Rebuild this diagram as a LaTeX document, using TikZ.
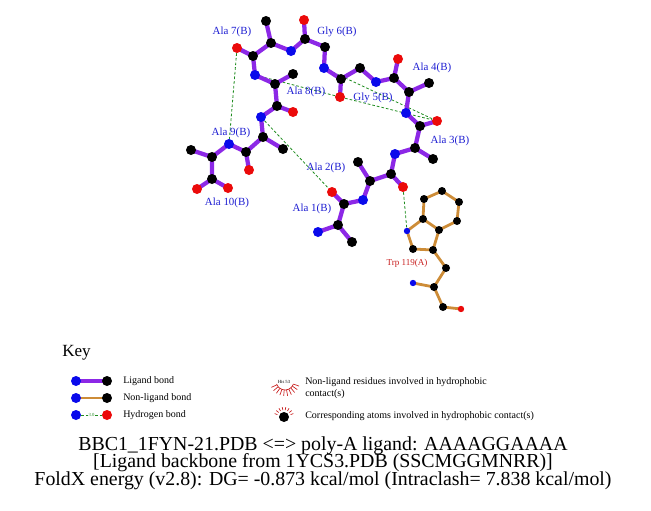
\documentclass[tikz,border=0pt]{standalone}
\usepackage{fontspec}
\setmainfont{Liberation Serif}
\usetikzlibrary{calc}
\definecolor{LigPurple}{RGB}{140,40,230}
\definecolor{NonLigOrange}{RGB}{205,140,55}
\definecolor{HBGreen}{RGB}{30,140,30}
\definecolor{AtomBlue}{RGB}{10,10,235}
\definecolor{AtomRed}{RGB}{235,10,10}
\definecolor{LabelBlue}{RGB}{30,30,210}
\definecolor{LabelRed}{RGB}{200,30,30}
\pgfdeclarelayer{bonds}
\pgfsetlayers{bonds,main}
\tikzset{
  atom/.style={circle,inner sep=0pt,minimum size=7.5pt},
  cat/.style={atom,fill=black},
  nat/.style={atom,fill=AtomBlue},
  oat/.style={atom,fill=AtomRed},
  tatom/.style={circle,inner sep=0pt,minimum size=6pt},
  tcat/.style={tatom,fill=black},
  tnat/.style={tatom,fill=AtomBlue,minimum size=4.8pt},
  toat/.style={tatom,fill=AtomRed,minimum size=4.8pt},
  ligbond/.style={LigPurple,line width=3.2pt,line join=round},
  nlbond/.style={NonLigOrange,line width=2.1pt,line join=round},
  hbond/.style={HBGreen,line width=0.6pt,dash pattern=on 2pt off 1.5pt},
  reslabel/.style={LabelBlue,font=\fontsize{8.2}{9}\selectfont,inner sep=0pt},
  trplabel/.style={LabelRed,font=\fontsize{6.8}{8}\selectfont,inner sep=0pt},
  keytext/.style={anchor=west,font=\fontsize{7.5}{8.5}\selectfont,inner sep=0pt},
  tinytext/.style={font=\fontsize{3.5}{4}\selectfont,inner sep=0pt},
  titletext/.style={font=\fontsize{14.9}{16}\selectfont,inner sep=0pt,
    text height=9.5pt,text depth=2pt},
}

\begin{document}
\begin{tikzpicture}[x=0.75pt,y=-0.75pt]
    \useasboundingbox (0,0) rectangle (651,511);

    % Ligand atoms
    \node[nat] (a1n)  at (318,232) {};
    \node[cat] (a1ca) at (338,225) {};
    \node[cat] (a1cb) at (352,242) {};
    \node[cat] (a1c)  at (344,204) {};
    \node[oat] (a1o)  at (332,192) {};
    \node[nat] (a2n)  at (363,200) {};
    \node[cat] (a2ca) at (370,181) {};
    \node[cat] (a2cb) at (358,162) {};
    \node[cat] (a2c)  at (391,174) {};
    \node[oat] (a2o)  at (403,187) {};
    \node[nat] (a3n)  at (395,154) {};
    \node[cat] (a3ca) at (415,148) {};
    \node[cat] (a3cb) at (433,159) {};
    \node[cat] (a3c)  at (420,126) {};
    \node[oat] (a3o)  at (437,121) {};
    \node[nat] (a4n)  at (406,113) {};
    \node[cat] (a4ca) at (409,92) {};
    \node[cat] (a4cb) at (429,83) {};
    \node[cat] (a4c)  at (394,78) {};
    \node[oat] (a4o)  at (398,59) {};
    \node[nat] (g5n)  at (376,82) {};
    \node[cat] (g5ca) at (360,68) {};
    \node[cat] (g5c)  at (341,79) {};
    \node[oat] (g5o)  at (340,97) {};
    \node[nat] (g6n)  at (324,68) {};
    \node[cat] (g6ca) at (325,47) {};
    \node[cat] (g6c)  at (305,39) {};
    \node[oat] (g6o)  at (304,20) {};
    \node[nat] (a7n)  at (291,51) {};
    \node[cat] (a7ca) at (271,43) {};
    \node[cat] (a7cb) at (266,21) {};
    \node[cat] (a7c)  at (253,56) {};
    \node[oat] (a7o)  at (237,48) {};
    \node[nat] (a8n)  at (255,75) {};
    \node[cat] (a8ca) at (275,84) {};
    \node[cat] (a8cb) at (293,74) {};
    \node[cat] (a8c)  at (277,106) {};
    \node[oat] (a8o)  at (293,112) {};
    \node[nat] (a9n)  at (261,117) {};
    \node[cat] (a9ca) at (263,137) {};
    \node[cat] (a9cb) at (283,149) {};
    \node[cat] (a9c)  at (246,152) {};
    \node[oat] (a9o)  at (249,170) {};
    \node[nat] (a10n)  at (229,144) {};
    \node[cat] (a10ca) at (212,157) {};
    \node[cat] (a10cb) at (191,150) {};
    \node[cat] (a10c)  at (212,179) {};
    \node[oat] (a10o)  at (197,189) {};
    \node[oat] (a10ox) at (228,188) {};

    % Trp 119(A)
    \node[tnat] (wne1) at (407,231) {};
    \node[tcat] (wcd1) at (413,249) {};
    \node[tcat] (wcg)  at (433,250) {};
    \node[tcat] (wcd2) at (439,230) {};
    \node[tcat] (wce2) at (423,219) {};
    \node[tcat] (wcz2) at (424,199) {};
    \node[tcat] (wch2) at (442,191) {};
    \node[tcat] (wcz3) at (459,202) {};
    \node[tcat] (wce3) at (457,221) {};
    \node[tcat] (wcb)  at (446,268) {};
    \node[tcat] (wca)  at (434,287) {};
    \node[tnat] (wn)   at (413,283) {};
    \node[tcat] (wc)   at (443,307) {};
    \node[toat] (wo)   at (461,309) {};

    \begin{pgfonlayer}{bonds}
      % Hydrogen bonds
      \draw[hbond] (a7o) -- (a10n);
      \draw[hbond] (a8n) -- (g5o);
      \draw[hbond] (g6n.center) -- (a3o);
      \draw[hbond] (g5o) -- (a3o);
      \draw[hbond] (a9n) -- (a1o);
      \draw[hbond] (a2o) -- (wne1);

      % Ligand bonds
      \draw[ligbond] (a1n.center) -- (a1ca.center) -- (a1c.center) -- (a2n.center)
        (a1ca.center) -- (a1cb.center) (a1c.center) -- (a1o.center);
      \draw[ligbond] (a2n.center) -- (a2ca.center) -- (a2c.center) -- (a3n.center)
        (a2ca.center) -- (a2cb.center) (a2c.center) -- (a2o.center);
      \draw[ligbond] (a3n.center) -- (a3ca.center) -- (a3c.center) -- (a4n.center)
        (a3ca.center) -- (a3cb.center) (a3c.center) -- (a3o.center);
      \draw[ligbond] (a4n.center) -- (a4ca.center) -- (a4c.center) -- (g5n.center)
        (a4ca.center) -- (a4cb.center) (a4c.center) -- (a4o.center);
      \draw[ligbond] (g5n.center) -- (g5ca.center) -- (g5c.center) -- (g6n.center)
        (g5c.center) -- (g5o.center);
      \draw[ligbond] (g6n.center) -- (g6ca.center) -- (g6c.center) -- (a7n.center)
        (g6c.center) -- (g6o.center);
      \draw[ligbond] (a7n.center) -- (a7ca.center) -- (a7c.center) -- (a8n.center)
        (a7ca.center) -- (a7cb.center) (a7c.center) -- (a7o.center);
      \draw[ligbond] (a8n.center) -- (a8ca.center) -- (a8c.center) -- (a9n.center)
        (a8ca.center) -- (a8cb.center) (a8c.center) -- (a8o.center);
      \draw[ligbond] (a9n.center) -- (a9ca.center) -- (a9c.center) -- (a10n.center)
        (a9ca.center) -- (a9cb.center) (a9c.center) -- (a9o.center);
      \draw[ligbond] (a10n.center) -- (a10ca.center) -- (a10c.center) -- (a10o.center)
        (a10ca.center) -- (a10cb.center) (a10c.center) -- (a10ox.center);

      % Non-ligand bonds
      \draw[nlbond] (wne1.center) -- (wcd1.center) -- (wcg.center) -- (wcd2.center)
        -- (wce2.center) -- cycle;
      \draw[nlbond] (wce2.center) -- (wcz2.center) -- (wch2.center) -- (wcz3.center)
        -- (wce3.center) -- (wcd2.center);
      \draw[nlbond] (wcg.center) -- (wcb.center) -- (wca.center) -- (wc.center) -- (wo.center)
        (wca.center) -- (wn.center);
    \end{pgfonlayer}

    % Residue labels
    \node[reslabel] (l7)  at (232,32)  {Ala 7(B)};
    \node[reslabel] (l6)  at (337,32)  {Gly 6(B)};
    \node[reslabel] (l4)  at (432,68)  {Ala 4(B)};
    \node[reslabel] (l8)  at (306,92)  {Ala 8(B)};
    \node[reslabel] (l5)  at (373,98)  {Gly 5(B)};
    \node[reslabel] (l3)  at (450,141) {Ala 3(B)};
    \node[reslabel] (l9)  at (231,133) {Ala 9(B)};
    \node[reslabel] (l2)  at (326,168) {Ala 2(B)};
    \node[reslabel] (l10) at (227,203) {Ala 10(B)};
    \node[reslabel] (l1)  at (312,209) {Ala 1(B)};
    \node[trplabel] (lw)  at (407,263) {Trp 119(A)};

    % Key
    \node[anchor=west,inner sep=0pt,font=\fontsize{12.8}{14}\selectfont] (key) at (62,353) {Key};

    \node[nat] (k1a) at (76,381) {};
    \node[cat] (k1b) at (107,381) {};
    \node[nat] (k2a) at (76,398) {};
    \node[cat] (k2b) at (107,398) {};
    \node[nat] (k3a) at (76,415) {};
    \node[oat] (k3b) at (107,415) {};
    \begin{pgfonlayer}{bonds}
      \draw[ligbond] (k1a.center) -- (k1b.center);
      \draw[nlbond] (k2a.center) -- (k2b.center);
      \draw[hbond] (k3a) -- node[tinytext,HBGreen,fill=white,inner sep=0.3pt] {3.0} (k3b);
    \end{pgfonlayer}
    \node[keytext] at (123,381) {Ligand bond};
    \node[keytext] at (123,398) {Non-ligand bond};
    \node[keytext] at (123,415) {Hydrogen bond};

    \node[tinytext] (khis) at (284,382) {His 53};
    \coordinate (kc) at (285,381);
    \draw[LabelRed,line width=0.5pt] ($(kc)+(20:9)$) arc[start angle=20,end angle=160,radius=9];
    \foreach \t in {20,35,...,160}
      \draw[LabelRed,line width=0.5pt] ($(kc)+(\t:9)$) -- ($(kc)+(\t:15)$);
    \node[keytext,align=left,font=\fontsize{7.5}{8.5}\selectfont] at (305,388)
      {Non-ligand residues involved in hydrophobic\\contact(s)};

    \node[cat,minimum size=7.5pt] (khyd) at (284,417) {};
    \foreach \t in {-160,-140,...,-20}
      \draw[LabelRed,line width=0.5pt] ($(khyd)+(\t:7)$) -- ($(khyd)+(\t:10)$);
    \node[keytext] at (305,416) {Corresponding atoms involved in hydrophobic contact(s)};

    % Title
    \node[titletext,anchor=base] (title1) at (323,450) {BBC1\_1FYN-21.PDB <=> poly-A ligand: AAAAGGAAAA};
    \node[titletext,anchor=base] (title2) at (323,467.5) {[Ligand backbone from 1YCS3.PDB (SSCMGGMNRR)]};
    \node[titletext,anchor=base] (title3) at (323,485) {FoldX energy (v2.8): DG= -0.873 kcal/mol (Intraclash= 7.838 kcal/mol)};
\end{tikzpicture}
\end{document}
